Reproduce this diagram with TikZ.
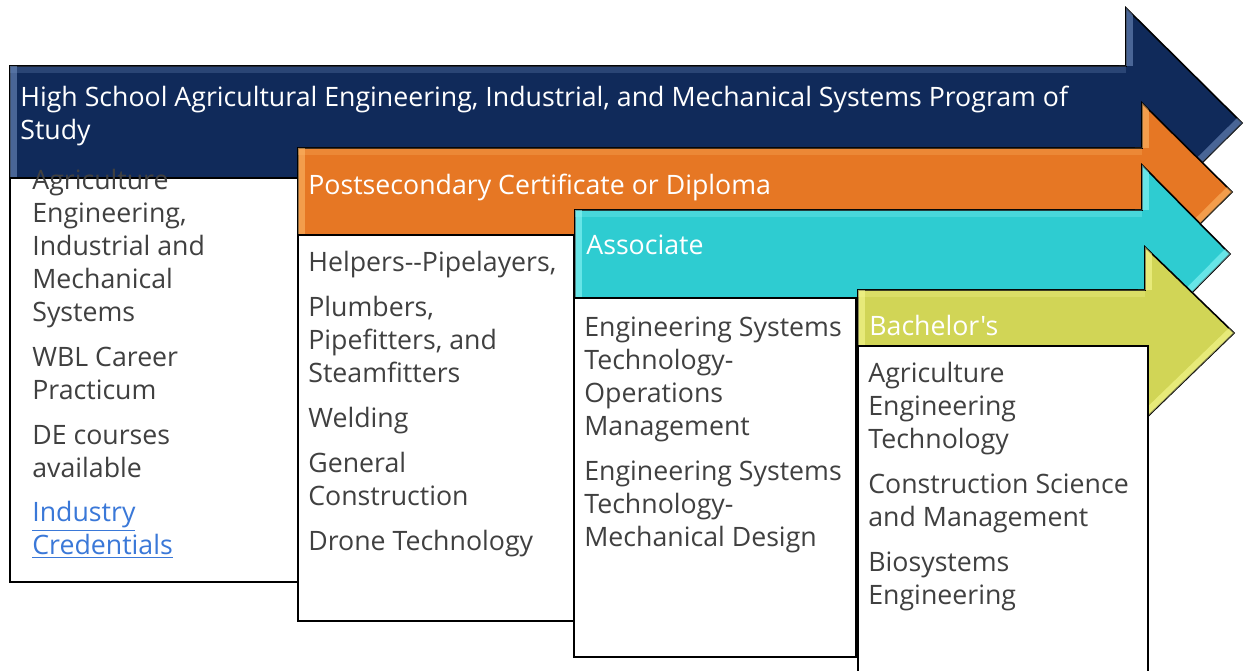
\documentclass[tikz,border=0pt]{standalone}
\usepackage{fontspec}
\setmainfont{Open Sans}[Ligatures=TeXOff]
\usetikzlibrary{positioning}
\definecolor{hsnavy}{RGB}{16, 42, 90}
\definecolor{hsglow}{RGB}{120, 150, 200}
\definecolor{psorange}{RGB}{230, 119, 36}
\definecolor{psglow}{RGB}{255, 190, 110}
\definecolor{ascyan}{RGB}{46, 204, 209}
\definecolor{asglow}{RGB}{150, 250, 250}
\definecolor{baolive}{RGB}{209, 213, 86}
\definecolor{baglow}{RGB}{250, 252, 150}
\definecolor{txtgray}{RGB}{64, 64, 64}
\definecolor{linkblue}{RGB}{58, 120, 216}
\newcommand{\bodyfont}{\fontsize{15.2}{18.75}\selectfont}
\tikzset{
  stagearrow/.style={draw=black, line width=0.9pt, line join=miter},
  bevel/.style={line width=8pt, opacity=0.55},
  listbox/.style={fill=white, draw=black, line width=1.1pt},
  listtxt/.style={anchor=north west, align=left, inner sep=0pt, text=txtgray, font=\bodyfont},
  hdrtxt/.style={anchor=west, align=left, inner sep=0pt, text=white, font=\bodyfont},
}

\begin{document}
\begin{tikzpicture}[x=0.02cm, y=-0.02cm]
  \useasboundingbox (0,0) rectangle (1246,671);

  % High school arrow
  \fill[hsnavy, stagearrow] (10,66) -- (1126,66) -- (1126,8) -- (1242,123) -- (1126,238) -- (1126,178) -- (10,178) -- cycle;
  \begin{scope}
    \clip (10,66) -- (1126,66) -- (1126,8) -- (1242,123) -- (1126,238) -- (1126,178) -- (10,178) -- cycle;
    \draw[bevel, hsglow] (10,178) -- (10,66);
    \draw[bevel, hsglow] (1126,66) -- (1126,8);
    \draw[bevel, hsglow, opacity=0.25] (10,66) -- (1126,66);
    \draw[bevel, hsglow] (1242,123) -- (1126,238);
  \end{scope}
  \fill[listbox] (10,178) rectangle (298,582);
  \node[hdrtxt, anchor=north west] (hshdr) at (20,86)
    {High School Agricultural Engineering, Industrial, and Mechanical Systems Program of\\Study};
  \node[listtxt] (hslist) at (32,169)
    {Agriculture\\Engineering,\\Industrial and\\Mechanical\\Systems\\[6.8pt]
     WBL Career\\Practicum\\[6.8pt]
     DE courses\\available\\[6.8pt]
     {\color{linkblue}\underline{Industry}}\\{\color{linkblue}\underline{Credentials}}};

  % Postsecondary arrow
  \fill[psorange, stagearrow] (298,148) -- (1142,148) -- (1142,103) -- (1232,192) -- (1142,281) -- (1142,235) -- (298,235) -- cycle;
  \begin{scope}
    \clip (298,148) -- (1142,148) -- (1142,103) -- (1232,192) -- (1142,281) -- (1142,235) -- (298,235) -- cycle;
    \draw[bevel, psglow] (298,235) -- (298,148);
    \draw[bevel, psglow] (1142,148) -- (1142,103);
    \draw[bevel, psglow, opacity=0.25] (298,148) -- (1142,148);
    \draw[bevel, psglow] (1232,192) -- (1142,281);
  \end{scope}
  \fill[listbox] (298,235) rectangle (574,621);
  \node[hdrtxt] (pshdr) at (308,187) {Postsecondary Certificate or Diploma};
  \node[listtxt] (pslist) at (308,251)
    {Helpers--Pipelayers,\\[6.8pt]
     Plumbers,\\Pipefitters, and\\Steamfitters\\[6.8pt]
     Welding\\[6.8pt]
     General\\Construction\\[6.8pt]
     Drone Technology};

  % Associate arrow
  \fill[ascyan, stagearrow] (575,210) -- (1142,210) -- (1142,165) -- (1230,254) -- (1142,343) -- (1142,298) -- (575,298) -- cycle;
  \begin{scope}
    \clip (575,210) -- (1142,210) -- (1142,165) -- (1230,254) -- (1142,343) -- (1142,298) -- (575,298) -- cycle;
    \draw[bevel, asglow] (575,298) -- (575,210);
    \draw[bevel, asglow] (1142,210) -- (1142,165);
    \draw[bevel, asglow, opacity=0.25] (575,210) -- (1142,210);
    \draw[bevel, asglow] (1230,254) -- (1142,343);
  \end{scope}
  \fill[listbox] (574,298) rectangle (856,657);
  \node[hdrtxt] (ashdr) at (586,245) {Associate};
  \node[listtxt] (aslist) at (584,317)
    {Engineering Systems\\Technology-\\Operations\\Management\\[6.8pt]
     Engineering Systems\\Technology-\\Mechanical Design};

  % Bachelor arrow
  \fill[baolive, stagearrow] (858,290) -- (1145,290) -- (1145,247) -- (1234,333) -- (1145,419) -- (1145,376) -- (858,376) -- cycle;
  \begin{scope}
    \clip (858,290) -- (1145,290) -- (1145,247) -- (1234,333) -- (1145,419) -- (1145,376) -- (858,376) -- cycle;
    \draw[bevel, baglow] (858,376) -- (858,290);
    \draw[bevel, baglow] (1145,290) -- (1145,247);
    \draw[bevel, baglow, opacity=0.25] (858,290) -- (1145,290);
    \draw[bevel, baglow] (1234,333) -- (1145,419);
  \end{scope}
  \fill[listbox] (858,690) -- (858,346) -- (1148,346) -- (1148,690);
  \node[hdrtxt] (bahdr) at (869,325) {Bachelor's};
  \node[listtxt] (balist) at (868,362)
    {Agriculture\\Engineering\\Technology\\[6.8pt]
     Construction Science\\and Management\\[6.8pt]
     Biosystems\\Engineering};
\end{tikzpicture}
\end{document}
